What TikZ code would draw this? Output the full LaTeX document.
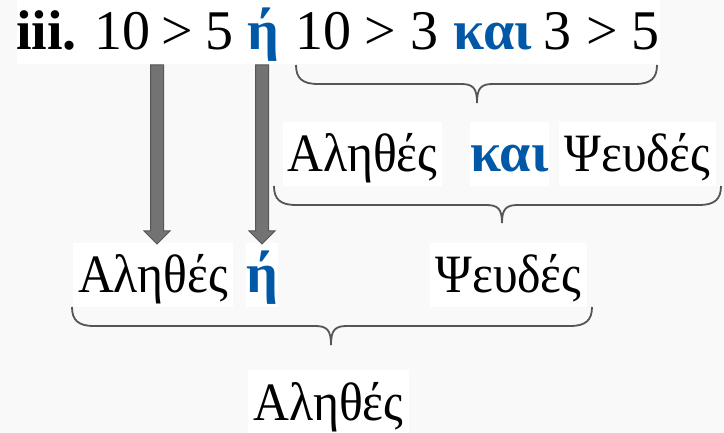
\documentclass[tikz,border=0pt]{standalone}
\usepackage{fontspec}
\setmainfont{Liberation Serif}
\newfontfamily\grk[FakeStretch=0.92]{Liberation Serif}
\definecolor{bg}{HTML}{F9F9F9}
\definecolor{kblue}{HTML}{0058A6}
\definecolor{arrowfill}{HTML}{737373}
\definecolor{arrowline}{HTML}{565656}
\definecolor{bracecol}{HTML}{555555}
\tikzset{
  big/.style={font=\fontsize{56}{60}\selectfont},
  tok/.style={big, anchor=base, inner sep=0pt},
  wbox/.style={big, fill=white, anchor=base, inner sep=0pt,
    text height=50pt, text depth=14pt},
  blockarrow/.style={fill=arrowfill, draw=arrowline, line width=1pt},
  bracestyle/.style={draw=bracecol, line width=1.8pt}
}
\newcommand{\kb}[1]{\textcolor{kblue}{\textbf{#1}}}
\newcommand{\gr}[1]{{\fontsize{54}{60}\grk #1}}
\begin{document}
\begin{tikzpicture}[x=1pt,y=-1pt]
\fill[bg] (0,0) rectangle (724,433);
\useasboundingbox (0,0) rectangle (724,433);
% top row
\node[wbox, minimum width=643pt] (top) at (338.5,50) {};
\node[tok] (t1) at (46.5,50) {\textbf{iii.}};
\node[tok] (t2) at (122,50) {10};
\node[tok] (t3) at (177.5,50) {>};
\node[tok] (t4) at (219.5,50) {5};
\node[tok] (t5) at (263.5,50) {\kb{ή}};
\node[tok] (t6) at (323.5,50) {10};
\node[tok] (t7) at (380,50) {>};
\node[tok] (t8) at (424,50) {3};
\node[tok] (t9) at (493,50) {\kb{και}};
\node[tok] (t10) at (557,50) {3};
\node[tok] (t11) at (602,50) {>};
\node[tok] (t12) at (645.5,50) {5};
% row 2
\node[wbox, minimum width=159pt] (a2) at (362.5,172) {\gr{Αληθές}};
\node[wbox, minimum width=79pt] (k2) at (509.5,172) {\kb{και}};
\node[wbox, minimum width=157pt] (p2) at (637.5,172) {\gr{Ψευδές}};
% row 3
\node[wbox, minimum width=160pt] (a3) at (153,293) {\gr{Αληθές}};
\node[wbox, minimum width=32pt] (h3) at (262,293) {\kb{ή}};
\node[wbox, minimum width=157pt] (p3) at (508.5,293) {\gr{Ψευδές}};
% row 4
\node[wbox, minimum width=161pt] (a4) at (328.5,420) {\gr{Αληθές}};
% block arrows
\coordinate (arr1) at (157,65);
\coordinate (arr2) at (262,65);
\foreach \c in {arr1,arr2}{
  \path[blockarrow] ([xshift=-6.5pt]\c) -- ([shift={(-6.5,166)}]\c) -- ([shift={(-13,166)}]\c) -- ([shift={(0,179)}]\c) -- ([shift={(13,166)}]\c) -- ([shift={(6.5,166)}]\c) -- ([xshift=6.5pt]\c) -- cycle;
}
% braces: left x, right x, top y, mid y, tip x, tip y
\newcommand{\mybrace}[6]{%
  \draw[bracestyle] (#1,#3) .. controls (#1,#4-6) and (#1+6,#4) .. (#1+22,#4)
    -- (#5-16,#4) .. controls (#5-4,#4) and (#5,#4+4) .. (#5,#6)
    .. controls (#5,#4+4) and (#5+4,#4) .. (#5+16,#4)
    -- (#2-22,#4) .. controls (#2-6,#4) and (#2,#4-6) .. (#2,#3);}
\mybrace{296}{657}{65}{84}{477}{103}
\mybrace{274}{721}{186}{205}{502}{223}
\mybrace{72}{592}{307}{326}{331}{345}
\end{tikzpicture}
\end{document}
